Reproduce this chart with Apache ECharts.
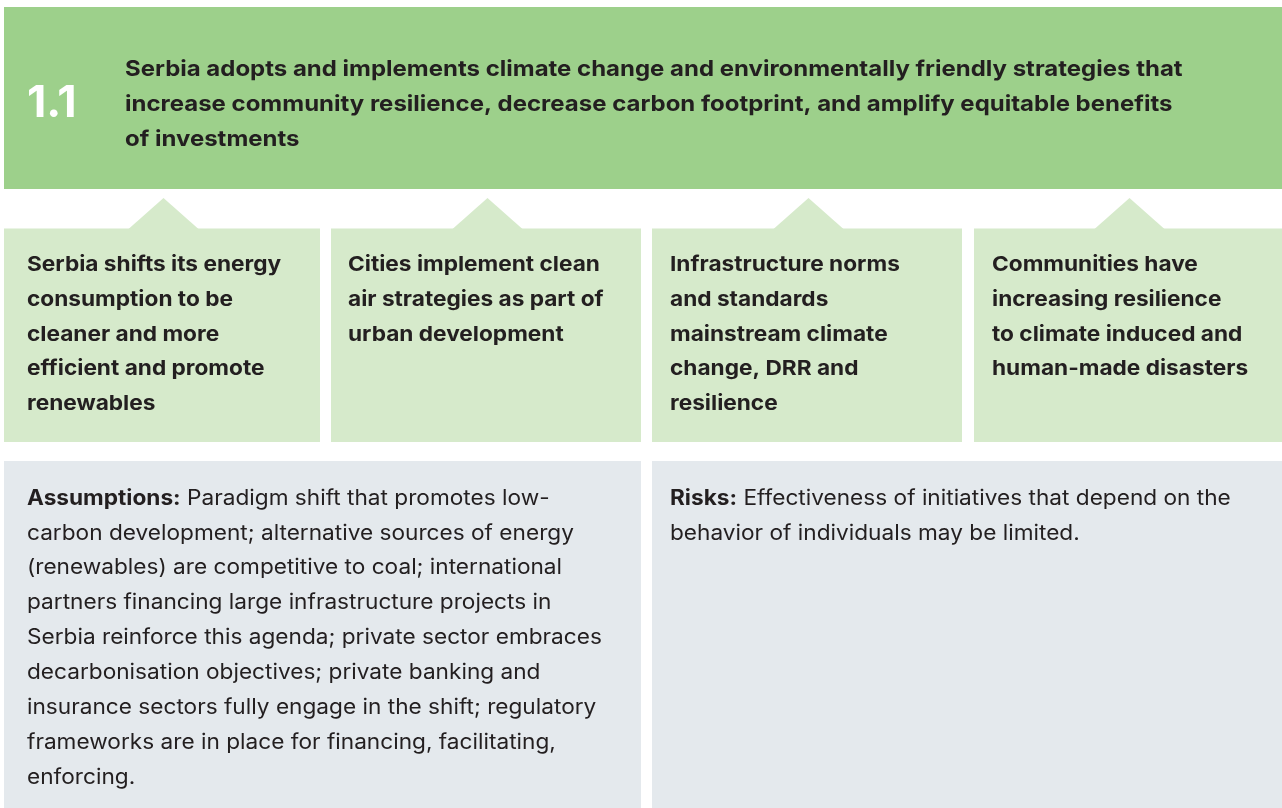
<!DOCTYPE html>
<html>
<head>
<meta charset="utf-8">
<script src="https://cdn.jsdelivr.net/npm/echarts@6/dist/echarts.min.js"></script>
<style>
html,body{margin:0;padding:0;background:#fff;}
#c{width:1282px;height:808px;}
</style>
</head>
<body>
<div id="c"></div>
<script>
// ---- content ----
var outcomeNumber = '1.1';
var outcomeLines = [
  'Serbia adopts and implements climate change and environmentally friendly strategies that',
  'increase community resilience, decrease carbon footprint, and amplify equitable benefits',
  'of investments'
];
var outputTitles = [
  ['Serbia shifts its energy', 'consumption to be', 'cleaner and more', 'efficient and promote', 'renewables'],
  ['Cities implement clean', 'air strategies as part of', 'urban development'],
  ['Infrastructure norms', 'and standards', 'mainstream climate', 'change, DRR and', 'resilience'],
  ['Communities have', 'increasing resilience', 'to climate induced and', 'human-made disasters']
];
var noteLabels = ['Assumptions:', 'Risks:'];
var noteLines = [
  [' Paradigm shift that promotes low-',
   'carbon development; alternative sources of energy',
   '(renewables) are competitive to coal; international',
   'partners financing large infrastructure projects in',
   'Serbia reinforce this agenda; private sector embraces',
   'decarbonisation objectives; private banking and',
   'insurance sectors fully engage in the shift; regulatory',
   'frameworks are in place for financing, facilitating,',
   'enforcing.'],
  [' Effectiveness of initiatives that depend on the',
   'behavior of individuals may be limited.']
];

// ---- layout / style ----
var FONT = 'Inter, "Noto Sans", sans-serif';
var TXT = '#231f20';
var GREEN = '#9dd08b';
var LIGHT = '#d6eacb';
var GRAY = '#e4e9ed';
var boxX = [[4, 320], [331, 641], [652, 962], [974, 1282]];
var boxTextX = [27, 348, 670, 992];
var noteX = [[4, 641], [652, 1282]];
var noteTextX = [27, 670];

function lineY(baseline, fs) { return baseline - fs * 0.36; }

var g = [];
// top band
g.push({type: 'rect', shape: {x: 4, y: 7, width: 1278, height: 182}, style: {fill: GREEN}});
g.push({type: 'text', x: 27, y: lineY(120, 44), scaleX: 1.02, style: {text: outcomeNumber, fill: '#ffffff', font: 'bold 44px ' + FONT, verticalAlign: 'middle'}});
outcomeLines.forEach(function (t, i) {
  g.push({type: 'text', x: 125, y: lineY(77 + i * 35.3, 22), scaleX: 1.09, style: {text: t, fill: TXT, font: 'bold 22px ' + FONT, verticalAlign: 'middle'}});
});
// output boxes and arrows
outputTitles.forEach(function (lines, k) {
  var x0 = boxX[k][0], x1 = boxX[k][1];
  var cx = (x0 + x1) / 2 + 1.5;
  g.push({type: 'polygon', shape: {points: [[cx - 35, 229], [cx, 198], [cx + 35, 229]]}, style: {fill: LIGHT}});
  g.push({type: 'rect', shape: {x: x0, y: 228.5, width: x1 - x0, height: 213.5}, style: {fill: LIGHT}});
  lines.forEach(function (t, i) {
    g.push({type: 'text', x: boxTextX[k], y: lineY(272 + i * 34.9, 20.5), scaleX: 1.105, style: {text: t, fill: TXT, font: 'bold 20.5px ' + FONT, verticalAlign: 'middle'}});
  });
});
// notes
noteLines.forEach(function (lines, k) {
  var x0 = noteX[k][0], x1 = noteX[k][1];
  g.push({type: 'rect', shape: {x: x0, y: 461, width: x1 - x0, height: 347}, style: {fill: GRAY}});
  lines.forEach(function (t, i) {
    var st = {fill: TXT, font: '21px ' + FONT, verticalAlign: 'middle'};
    if (i === 0) {
      st.text = '{b|' + noteLabels[k] + '}{r|' + t + '}';
      st.rich = {b: {fontFamily: FONT, fontWeight: 'bold', fontSize: 21, fill: TXT}, r: {fontFamily: FONT, fontSize: 21, fill: TXT}};
    } else {
      st.text = t;
    }
    g.push({type: 'text', x: noteTextX[k], y: lineY(506 + i * 34.85, 21), scaleX: 1.078, style: st});
  });
});

var chart = echarts.init(document.getElementById('c'), null, {renderer: 'canvas'});
chart.setOption({animation: false, graphic: {elements: g}});
</script>
</body>
</html>
